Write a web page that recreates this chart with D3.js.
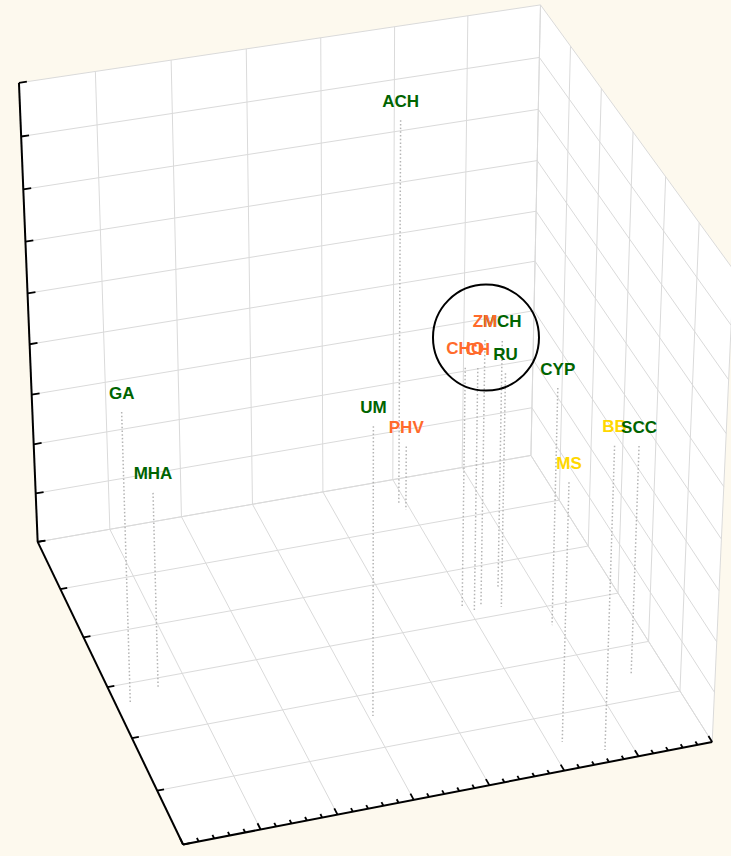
<!DOCTYPE html>
<html><head><meta charset="utf-8">
<script src="https://cdn.jsdelivr.net/npm/d3@7"></script>
<style>body{margin:0;background:#fdf9ee}svg{display:block}</style>
</head><body>
<svg id="chart" width="731" height="856"></svg>
<script>
// ---- data ----
const names   = ["ACH","GA","MHA","UM","PHV","CHO","CH","MCH","ZM","RU","CYP","MS","BB","SCC"];
const groups  = ["g","g","g","g","o","o","o","g","o","g","g","y","y","g"];
const xValues = [4.90,0.19,0.62,3.06,4.94,4.93,5.06,5.53,5.18,5.42,5.92,5.18,5.64,6.53];
const yValues = [0.49,3.35,3.17,4.41,0.65,2.72,2.82,2.47,2.75,2.86,3.37,5.50,5.78,4.53];
const zValues = [7.64,5.67,3.85,5.66,1.31,4.78,4.83,4.93,5.28,4.68,4.73,5.08,5.91,4.52];
const circled = ["CHO","CH","ZM","MCH","RU"];
const xDomain = [0,7], yDomain = [0,6], zDomain = [0,9];

// ---- camera: homogeneous 3x4 perspective projection of the unit cube ----
const VIEW = {cx:370, cy:420, s:400,
  m:[1.3127,0.4216,0.0013,-0.0085, -0.2254,0.7112,-1.1618,-0.0165, 0.0299,-0.0817,-0.0577]};
function project(u,v,w){
  const m=VIEW.m,X=u-.5,Y=v-.5,Z=w-.5,d=m[8]*X+m[9]*Y+m[10]*Z+1;
  return [(m[0]*X+m[1]*Y+m[2]*Z+m[3])/d*VIEW.s+VIEW.cx,(m[4]*X+m[5]*Y+m[6]*Z+m[7])/d*VIEW.s+VIEW.cy];
}

const x=d3.scaleLinear().domain(xDomain).range([0,1]);
const y=d3.scaleLinear().domain(yDomain).range([0,1]);
const z=d3.scaleLinear().domain(zDomain).range([0,1]);
const [x0,x1]=xDomain,[y0,y1]=yDomain,[z0,z1]=zDomain;
const pt=(a,b,c)=>project(x(a),y(b),z(c));
const line=d3.line();
const svg=d3.select("#chart");

// walls and floor
const faces=[[[x0,y0,z0],[x0,y0,z1],[x1,y0,z1],[x1,y0,z0]],
             [[x1,y0,z0],[x1,y0,z1],[x1,y1,z1],[x1,y1,z0]],
             [[x0,y0,z0],[x1,y0,z0],[x1,y1,z0],[x0,y1,z0]]];
svg.append("g").selectAll("path").data(faces).join("path")
  .attr("d",f=>line(f.map(c=>pt(...c)))+"Z").attr("fill","#fff");

// grid
const grid=[];
x.ticks(7).forEach(t=>{grid.push([[t,y0,z0],[t,y0,z1]]);grid.push([[t,y0,z0],[t,y1,z0]]);});
y.ticks(6).forEach(t=>{grid.push([[x1,t,z0],[x1,t,z1]]);grid.push([[x0,t,z0],[x1,t,z0]]);});
z.ticks(9).forEach(t=>{grid.push([[x0,y0,t],[x1,y0,t]]);grid.push([[x1,y0,t],[x1,y1,t]]);});
svg.append("g").selectAll("path").data(grid).join("path")
  .attr("d",s=>line(s.map(c=>pt(...c))))
  .attr("stroke","#dadada").attr("stroke-width",1).attr("fill","none");

// axes and ticks
const ax=svg.append("g").attr("stroke","#000").attr("fill","none");
[[[x0,y0,z0],[x0,y0,z1]],[[x0,y0,z0],[x0,y1,z0]],[[x0,y1,z0],[x1,y1,z0]]]
  .forEach(s=>ax.append("path").attr("d",line(s.map(c=>pt(...c)))).attr("stroke-width",2));
function tick(c,toward,len){
  const a=pt(...c),b=pt(...toward),dx=b[0]-a[0],dy=b[1]-a[1],L=Math.hypot(dx,dy);
  ax.append("path").attr("d",line([a,[a[0]+dx/L*len,a[1]+dy/L*len]])).attr("stroke-width",1.8);
}
z.ticks(9).forEach(t=>tick([x0,y0,t],[x1,y0,t],8));
y.ticks(6).forEach(t=>tick([x0,t,z0],[x1,t,z0],7));
x.ticks(35).forEach(t=>{const major=Math.abs(t-Math.round(t))<1e-6;tick([t,y1,z0],[t,y0,z0],major?7:4);});

// drop lines and labels
const pts=names.map((n,i)=>({n,g:groups[i],
  top:pt(xValues[i],yValues[i],zValues[i]),bot:pt(xValues[i],yValues[i],z0)}));
svg.append("g").selectAll("path").data(pts).join("path")
  .attr("d",d=>line([d.top,d.bot]))
  .attr("stroke","#b4b4b4").attr("stroke-width",1.5).attr("stroke-dasharray","1.5,2.2");
const col={g:"#006400",o:"#ff6a2b",y:"#ffd700"};
const labels=svg.append("g").selectAll("text").data(pts).join("text")
  .attr("x",d=>d.top[0]).attr("y",d=>d.top[1]-13.5)
  .attr("text-anchor","middle").attr("font-family","Liberation Sans, Arial, sans-serif")
  .attr("font-weight","bold").attr("font-size",17).attr("fill",d=>col[d.g]).text(d=>d.n);

// ring around the tight cluster
const boxes=labels.filter(d=>circled.includes(d.n)).nodes().map(n=>n.getBBox());
const bx0=d3.min(boxes,b=>b.x),bx1=d3.max(boxes,b=>b.x+b.width);
const by0=d3.min(boxes,b=>b.y),by1=d3.max(boxes,b=>b.y+b.height);
svg.append("circle").attr("cx",(bx0+bx1)/2+2).attr("cy",(by0+by1)/2).attr("r",53)
  .attr("fill","none").attr("stroke","#000").attr("stroke-width",2);
</script></body></html>
